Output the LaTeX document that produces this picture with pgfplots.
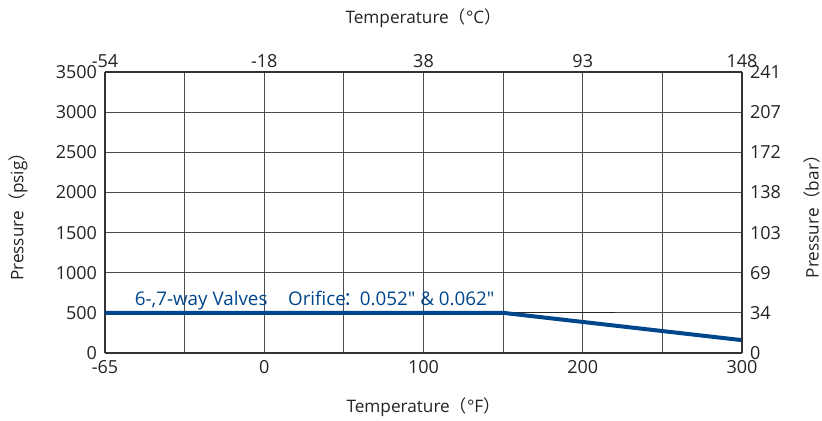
\documentclass[border=0pt]{standalone}
\usepackage{pgfplots}
\pgfplotsset{compat=1.18}
\usepackage{fontspec}
\setmainfont{Open Sans}
\newfontfamily\qf{Open Sans}
\newfontfamily\cjk{Noto Sans CJK SC}
\definecolor{lineblue}{RGB}{0,70,140}
\definecolor{txt}{RGB}{35,35,35}
\begin{document}
\begin{tikzpicture}
\pgfplotsset{
  base/.style={
    scale only axis, width=318.5pt, height=140.5pt,
    xmin=-100, xmax=300, ymin=0, ymax=3500,
    xtick={-100,0,100,200,300},
    ytick={0,500,1000,1500,2000,2500,3000,3500},
    major tick length=0pt, minor tick length=0pt,
    tick label style={font=\fontsize{9}{10}\selectfont, text=txt},
    /pgf/number format/assume math mode=true,
    axis line style={black!80, line width=0.7pt},
    clip=false,
  }
}
\begin{axis}[base,
  axis x line*=bottom, axis y line*=left,
  xticklabels={-65,0,100,200,300},
  yticklabels={0,500,1000,1500,2000,2500,3000,3500},
  minor xtick={-50,50,150,250},
  grid=both,
  major grid style={black!70, line width=0.6pt},
  minor grid style={black!70, line width=0.6pt},
  yticklabel style={xshift=-0.5pt},
  xticklabel style={yshift=0pt},
]
\addplot[black!85, line width=0.6pt] coordinates {(150,500) (220,500)};
\addplot[lineblue, line width=2pt] coordinates {(-100,500) (150,500) (300,160)};
\node[anchor=base west, text=lineblue, font=\fontsize{9.4}{10}\selectfont, inner sep=0pt, yshift=3.5pt]
  at (axis cs:-81.5,500) {6-,7-way Valves\hspace{1.1em}Orifice{\cjk\hspace{-0.1em}：\hspace{-0.15em}}0.052{\qf"}\ \& 0.062{\qf"}};
\node[font=\fontsize{8.6}{10}\selectfont, text=txt, anchor=center, yshift=-27pt]
  at (rel axis cs:0.5,0) {Temperature{\cjk（}°F{\cjk）}};
\node[font=\fontsize{8.6}{10}\selectfont, text=txt, anchor=center, yshift=27pt]
  at (rel axis cs:0.5,1) {Temperature{\cjk（}°C{\cjk）}};
\node[font=\fontsize{8.6}{10}\selectfont, text=txt, anchor=center, rotate=90, yshift=43.5pt]
  at (rel axis cs:0,0.5) {Pressure{\cjk（}psig{\cjk）}};
\node[font=\fontsize{8.6}{10}\selectfont, text=txt, anchor=center, rotate=90, yshift=-35pt]
  at (rel axis cs:1,0.5) {Pressure{\cjk（}bar{\cjk）}};
\end{axis}
\begin{axis}[base,
  axis x line*=top, axis y line*=right,
  xticklabels={-54,-18,38,93,148},
  yticklabels={0,34,69,103,138,172,207,241},
  yticklabel style={xshift=0.5pt},
  xticklabel style={yshift=-1.5pt},
]
\addplot[draw=none] coordinates {(0,0)};
\end{axis}
\pgfresetboundingbox
\path (-52.5pt,-34pt) rectangle (358.5pt,176.5pt);
\end{tikzpicture}
\end{document}
